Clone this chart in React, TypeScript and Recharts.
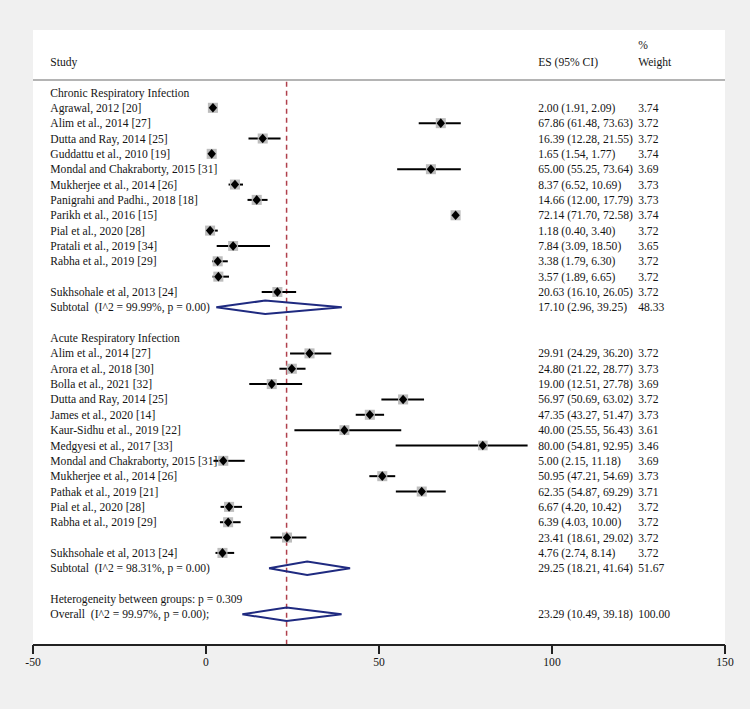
import React from 'react';
import { ScatterChart, Scatter, XAxis, YAxis, ErrorBar, ReferenceLine, CartesianGrid } from 'recharts';

// ---------- data ----------
const groupNames = ['Chronic Respiratory Infection', 'Acute Respiratory Infection'];

const chronicStudies = [
  'Agrawal, 2012 [20]', 'Alim et al., 2014 [27]', 'Dutta and Ray, 2014 [25]', 'Guddattu et al., 2010 [19]',
  'Mondal and Chakraborty, 2015 [31]', 'Mukherjee et al., 2014 [26]', 'Panigrahi and Padhi., 2018 [18]',
  'Parikh et al., 2016 [15]', 'Pial et al., 2020 [28]', 'Pratali et al., 2019 [34]', 'Rabha et al., 2019 [29]',
  '', 'Sukhsohale et al, 2013 [24]',
];
const chronicES = [2.0, 67.86, 16.39, 1.65, 65.0, 8.37, 14.66, 72.14, 1.18, 7.84, 3.38, 3.57, 20.63];
const chronicLo = [1.91, 61.48, 12.28, 1.54, 55.25, 6.52, 12.0, 71.7, 0.4, 3.09, 1.79, 1.89, 16.1];
const chronicHi = [2.09, 73.63, 21.55, 1.77, 73.64, 10.69, 17.79, 72.58, 3.4, 18.5, 6.3, 6.65, 26.05];
const chronicW = [3.74, 3.72, 3.72, 3.74, 3.69, 3.73, 3.73, 3.74, 3.72, 3.65, 3.72, 3.72, 3.72];

const acuteStudies = [
  'Alim et al., 2014 [27]', 'Arora et al., 2018 [30]', 'Bolla et al., 2021 [32]', 'Dutta and Ray, 2014 [25]',
  'James et al., 2020 [14]', 'Kaur-Sidhu et al., 2019 [22]', 'Medgyesi et al., 2017 [33]',
  'Mondal and Chakraborty, 2015 [31]', 'Mukherjee et al., 2014 [26]', 'Pathak et al., 2019 [21]',
  'Pial et al., 2020 [28]', 'Rabha et al., 2019 [29]', '', 'Sukhsohale et al, 2013 [24]',
];
const acuteES = [29.91, 24.8, 19.0, 56.97, 47.35, 40.0, 80.0, 5.0, 50.95, 62.35, 6.67, 6.39, 23.41, 4.76];
const acuteLo = [24.29, 21.22, 12.51, 50.69, 43.27, 25.55, 54.81, 2.15, 47.21, 54.87, 4.2, 4.03, 18.61, 2.74];
const acuteHi = [36.2, 28.77, 27.78, 63.02, 51.47, 56.43, 92.95, 11.18, 54.69, 69.29, 10.42, 10.0, 29.02, 8.14];
const acuteW = [3.72, 3.73, 3.69, 3.72, 3.73, 3.61, 3.46, 3.69, 3.73, 3.71, 3.72, 3.72, 3.72, 3.72];

const summaryLabels = [
  'Subtotal  (I^2 = 99.99%, p = 0.00)',
  'Subtotal  (I^2 = 98.31%, p = 0.00)',
  'Overall  (I^2 = 99.97%, p = 0.00);',
];
const summaryES = [17.1, 29.25, 23.29];
const summaryLo = [2.96, 18.21, 10.49];
const summaryHi = [39.25, 41.64, 39.18];
const summaryW = [48.33, 51.67, 100.0];

const heterogeneityText = 'Heterogeneity between groups: p = 0.309';
const headerTexts = ['Study', 'ES (95% CI)', '%', 'Weight'];
const xTicks = [-50, 0, 50, 100, 150];

// ---------- layout constants ----------
const FONT = '"Liberation Serif", "Times New Roman", Times, serif';
const FS = 11.6;
const TEXT = '#151515';
const NAVY = '#1f2a80';
const RED = '#b0404c';
const LABEL_X = -45.0;
const ES_X = 96.0;
const W_X = 124.9;
const Y_DOMAIN: [number, number] = [-4.07, 36.0];
const OVERALL_ROW = 34;

type TextPt = { x: number; y: number; text: string };
type StudyPt = { x: number; y: number; err: [number, number]; w: number };

const fmt = (v: number) => v.toFixed(2);

const labelPts: TextPt[] = [];
const esPts: TextPt[] = [];
const wPts: TextPt[] = [];
const studyPts: StudyPt[] = [];
const diamonds: { x: number; y: number }[][] = [];

function addGroup(gi: number, start: number, names: string[], es: number[], lo: number[], hi: number[], w: number[]) {
  labelPts.push({ x: LABEL_X, y: start, text: groupNames[gi] });
  names.forEach((n, i) => {
    const row = start + 1 + i;
    if (n) labelPts.push({ x: LABEL_X, y: row, text: n });
    esPts.push({ x: ES_X, y: row, text: `${fmt(es[i])} (${fmt(lo[i])}, ${fmt(hi[i])})` });
    wPts.push({ x: W_X, y: row, text: fmt(w[i]) });
    studyPts.push({ x: es[i], y: row, err: [es[i] - lo[i], hi[i] - es[i]], w: w[i] });
  });
  return start + 1 + names.length;
}

function addSummary(si: number, row: number) {
  labelPts.push({ x: LABEL_X, y: row, text: summaryLabels[si] });
  esPts.push({ x: ES_X, y: row, text: `${fmt(summaryES[si])} (${fmt(summaryLo[si])}, ${fmt(summaryHi[si])})` });
  wPts.push({ x: W_X, y: row, text: fmt(summaryW[si]) });
  const h = 0.44;
  diamonds.push([
    { x: summaryLo[si], y: row },
    { x: summaryES[si], y: row - h },
    { x: summaryHi[si], y: row },
    { x: summaryES[si], y: row + h },
    { x: summaryLo[si], y: row },
  ]);
}

let r = addGroup(0, 0, chronicStudies, chronicES, chronicLo, chronicHi, chronicW);
addSummary(0, r);
r = addGroup(1, r + 2, acuteStudies, acuteES, acuteLo, acuteHi, acuteW);
addSummary(1, r);
labelPts.push({ x: LABEL_X, y: r + 2, text: heterogeneityText });
addSummary(2, r + 3);

const headerPts: TextPt[] = [
  { x: LABEL_X, y: -2, text: headerTexts[0] },
  { x: ES_X, y: -2, text: headerTexts[1] },
  { x: W_X, y: -3.09, text: headerTexts[2] },
  { x: W_X, y: -2, text: headerTexts[3] },
];
const allText = [...headerPts, ...labelPts, ...esPts, ...wPts];

// ---------- shapes ----------
const TextShape = (props: any) => {
  const { cx, cy, payload } = props;
  return (
    <text x={cx} y={cy} dy="0.35em" fontFamily={FONT} fontSize={FS} fill={TEXT} style={{ whiteSpace: 'pre' }}>
      {payload.text}
    </text>
  );
};

const BoxShape = (props: any) => {
  const { cx, cy, payload } = props;
  const s = 5.2 * Math.sqrt(payload.w);
  return <rect x={cx - s / 2} y={cy - s / 2} width={s} height={s} fill="#bdbdbd" />;
};

const MarkShape = (props: any) => {
  const { cx, cy } = props;
  const a = 4.2;
  const b = 4.8;
  return <polygon points={`${cx - a},${cy} ${cx},${cy - b} ${cx + a},${cy} ${cx},${cy + b}`} fill="#000" />;
};

const NoShape = () => <g />;

export default function App() {
  return (
    <div style={{ position: 'absolute', left: 0, top: 0, width: 750, height: 709, background: '#f0f0f0' }}>
      <ScatterChart width={750} height={709} margin={{ top: 30, right: 25, bottom: 24, left: 33 }}>
        <CartesianGrid fill="#ffffff" horizontal={false} vertical={false} />
        <XAxis
          type="number"
          dataKey="x"
          domain={[-50, 150]}
          ticks={xTicks}
          interval={0}
          allowDataOverflow
          height={40}
          tickSize={9}
          tickMargin={4}
          axisLine={{ stroke: '#222', strokeWidth: 2 }}
          tickLine={{ stroke: '#222', strokeWidth: 2 }}
          tick={{ fontSize: FS, fill: TEXT, fontFamily: FONT }}
        />
        <YAxis type="number" dataKey="y" domain={Y_DOMAIN} reversed hide allowDataOverflow />
        <ReferenceLine y={-0.81} stroke="#b4b4b4" strokeWidth={2} />
        <ReferenceLine
          segment={[{ x: summaryES[2], y: -0.7 }, { x: summaryES[2], y: Y_DOMAIN[1] }]}
          stroke={RED}
          strokeWidth={1.5}
          strokeDasharray="5 4"
        />
        <Scatter data={studyPts} shape={BoxShape} isAnimationActive={false} />
        <Scatter data={studyPts} shape={MarkShape} isAnimationActive={false}>
          <ErrorBar dataKey="err" direction="x" width={0} stroke="#000" strokeWidth={2} isAnimationActive={false} />
        </Scatter>
        {diamonds.map((d, i) => (
          <Scatter
            key={i}
            data={d}
            shape={NoShape}
            fill="none"
            line={{ stroke: NAVY, strokeWidth: 2, fill: 'none' }}
            isAnimationActive={false}
          />
        ))}
        <Scatter data={allText} shape={TextShape} isAnimationActive={false} />
      </ScatterChart>
    </div>
  );
}
